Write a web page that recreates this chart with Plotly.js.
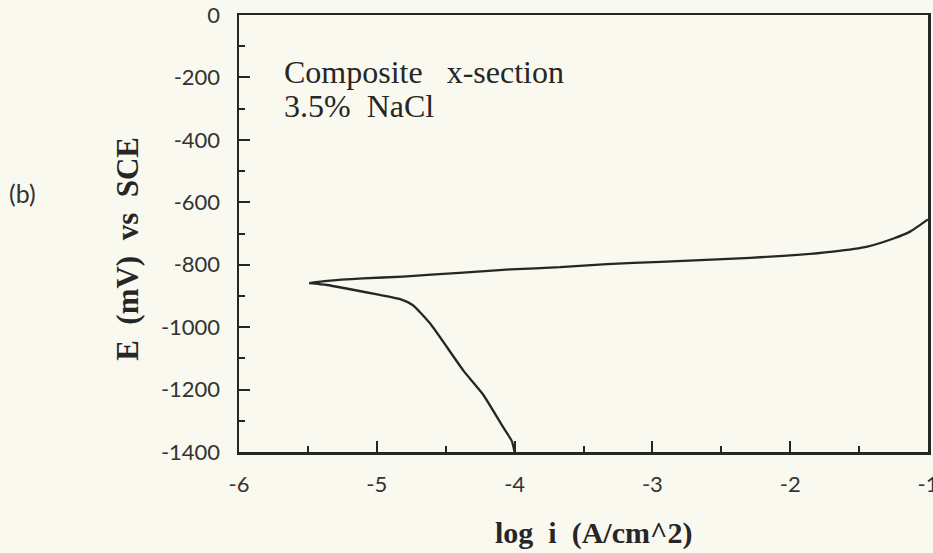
<!DOCTYPE html>
<html>
<head>
<meta charset="utf-8">
<script src="https://cdn.plot.ly/plotly-3.0.1.min.js"></script>
<style>html,body{margin:0;padding:0;background:#f9f9ef;}</style>
</head>
<body>
<div id="chart" style="width:933px;height:553px;"></div>
<script>
// Anodic branch (upper curve)
const logI_anodic = [-5.49, -5.36, -5.10, -4.81, -4.40, -4.03, -3.67, -3.33, -2.94, -2.53, -2.05, -1.69, -1.44, -1.25, -1.13, -1.00];
const E_anodic    = [-859, -852, -844, -838, -826, -815, -808, -798, -791, -783, -772, -758, -742, -716, -694, -655];
// Cathodic branch (lower curve)
const logI_cathodic = [-5.49, -5.36, -5.00, -4.83, -4.74, -4.61, -4.37, -4.23, -4.08, -4.02, -4.00];
const E_cathodic    = [-859, -865, -895, -910, -929, -990, -1140, -1215, -1323, -1365, -1400];
// Tick labels
const xTickVals = [-6, -5, -4, -3, -2, -1];
const xTickText = ["-6", "-5", "-4", "-3", "-2", "-1"];
const yTickVals = [0, -200, -400, -600, -800, -1000, -1200, -1400];
const yTickText = ["0", "-200", "-400", "-600", "-800", "-1000", "-1200", "-1400"];

const ink = '#262626';
const traces = [
  {x: logI_anodic, y: E_anodic, mode: 'lines', line: {color: ink, width: 2.3, shape: 'spline', smoothing: 0.5}, hoverinfo: 'skip'},
  {x: logI_cathodic, y: E_cathodic, mode: 'lines', line: {color: ink, width: 2.3, shape: 'spline', smoothing: 0.5}, hoverinfo: 'skip'}
];
const tickFont = {family: 'Lato, "DejaVu Sans", sans-serif', size: 22, color: '#333'};
const serif = '"Liberation Serif", "Times New Roman", serif';
const layout = {
  width: 933, height: 553,
  paper_bgcolor: '#f9f9ef', plot_bgcolor: '#f9f9ef',
  showlegend: false,
  margin: {l: 239, r: 5, t: 15, b: 101},
  xaxis: {
    range: [-6, -1], tickvals: xTickVals, ticktext: xTickText,
    ticks: 'inside', ticklen: 11, tickwidth: 2, tickcolor: ink,
    minor: {dtick: 0.5, ticks: 'inside', ticklen: 6, tickwidth: 2, tickcolor: ink},
    showline: true, linecolor: ink, linewidth: 2.5, mirror: true,
    showgrid: false, zeroline: false, tickfont: tickFont, ticklabelstandoff: 11,
    ticklabeloverflow: 'allow'
  },
  yaxis: {
    range: [-1400, 0], tickvals: yTickVals, ticktext: yTickText,
    ticks: 'inside', ticklen: 11, tickwidth: 2, tickcolor: ink,
    minor: {dtick: 100, ticks: 'inside', ticklen: 6, tickwidth: 2, tickcolor: ink},
    showline: true, linecolor: ink, linewidth: 2.5, mirror: true,
    showgrid: false, zeroline: false, tickfont: tickFont, ticklabelstandoff: 12,
    ticklabeloverflow: 'allow'
  },
  annotations: [
    {text: 'Composite&nbsp;&nbsp;&nbsp;x-section', xref: 'paper', yref: 'paper',
     x: 0.062, y: 0.869, xanchor: 'left', yanchor: 'middle', align: 'left', showarrow: false,
     font: {family: serif, size: 32, color: ink}},
    {text: '3.5%&nbsp;&nbsp;NaCl', xref: 'paper', yref: 'paper',
     x: 0.062, y: 0.792, xanchor: 'left', yanchor: 'middle', align: 'left', showarrow: false,
     font: {family: serif, size: 32, color: ink}},
    {text: 'E&nbsp;&nbsp;(mV)&nbsp;&nbsp;vs&nbsp;&nbsp;SCE', xref: 'paper', yref: 'paper', x: -0.161, y: 0.465, textangle: -90,
     xanchor: 'center', yanchor: 'middle', showarrow: false,
     font: {family: serif, size: 31, color: ink, weight: 'bold'}},
    {text: 'log&nbsp;&nbsp;i&nbsp;&nbsp;(A/cm^2)', xref: 'paper', yref: 'paper', x: 0.515, y: -0.185,
     xanchor: 'center', yanchor: 'middle', showarrow: false,
     font: {family: serif, size: 30, color: ink, weight: 'bold'}},
    {text: '(b)', xref: 'paper', yref: 'paper', x: -0.3135, y: 0.593,
     xanchor: 'center', yanchor: 'middle', showarrow: false,
     font: {family: 'Lato, "DejaVu Sans", sans-serif', size: 25, color: '#333'}}
  ]
};
Plotly.newPlot('chart', traces, layout, {staticPlot: true, displayModeBar: false});
</script>
</body>
</html>
